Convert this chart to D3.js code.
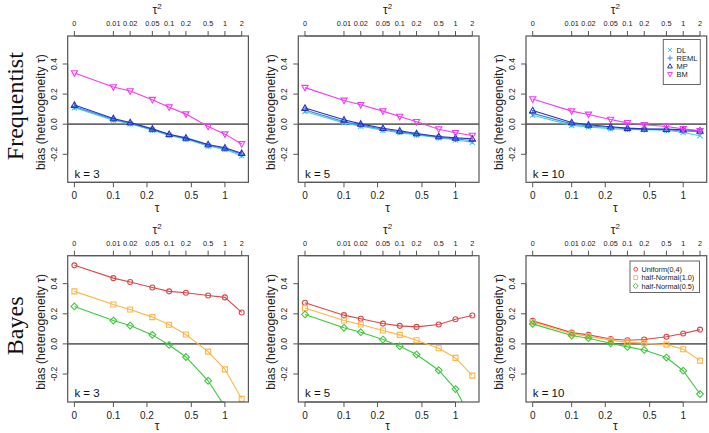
<!DOCTYPE html>
<html><head><meta charset="utf-8">
<script src="https://cdn.jsdelivr.net/npm/d3@7"></script>
<style>
body{margin:0;background:#fff;}
svg text{font-family:"Liberation Sans",Arial,sans-serif;}
</style></head>
<body><svg id="chart" width="709" height="433"></svg>
<script>
// ---------- data ----------
const tau2Values = [0, 0.01, 0.02, 0.05, 0.1, 0.2, 0.5, 1, 2];
const tau2Labels = ["0", "0.01", "0.02", "0.05", "0.1", "0.2", "0.5", "1", "2"];
const tauTicks = [0, 0.1, 0.2, 0.5, 1];
const tauTickLabels = ["0", "0.1", "0.2", "0.5", "1"];
const yTicks = [-0.2, 0.0, 0.2, 0.4];
const yTickLabels = ["-0.2", "0.0", "0.2", "0.4"];
const kValues = [3, 5, 10];
const rowLabels = ["Frequentist", "Bayes"];

const freqMethods = ["DL", "REML", "MP", "BM"];
const freqK3_DL   = [0.110, 0.027, 0.003, -0.040, -0.075, -0.100, -0.145, -0.168, -0.210];
const freqK3_REML = [0.118, 0.033, 0.007, -0.035, -0.070, -0.095, -0.140, -0.162, -0.200];
const freqK3_MP   = [0.127, 0.038, 0.011, -0.031, -0.067, -0.091, -0.135, -0.157, -0.193];
const freqK3_BM   = [0.340, 0.247, 0.220, 0.163, 0.113, 0.067, -0.015, -0.066, -0.131];
const freqK5_DL   = [0.085, 0.009, -0.013, -0.040, -0.056, -0.071, -0.090, -0.105, -0.120];
const freqK5_REML = [0.095, 0.017, -0.006, -0.034, -0.050, -0.066, -0.086, -0.098, -0.108];
const freqK5_MP   = [0.107, 0.029, 0.002, -0.027, -0.044, -0.062, -0.082, -0.091, -0.097];
const freqK5_BM   = [0.243, 0.158, 0.129, 0.087, 0.051, 0.016, -0.033, -0.057, -0.075];
const freqK10_DL   = [0.060, -0.008, -0.018, -0.030, -0.035, -0.036, -0.040, -0.055, -0.077];
const freqK10_REML = [0.072, 0.002, -0.010, -0.022, -0.030, -0.033, -0.036, -0.045, -0.050];
const freqK10_MP   = [0.091, 0.011, -0.004, -0.017, -0.026, -0.031, -0.033, -0.037, -0.044];
const freqK10_BM   = [0.167, 0.087, 0.065, 0.031, 0.009, -0.004, -0.015, -0.031, -0.044];

const bayesPriors = ["Uniform(0,4)", "half-Normal(1.0)", "half-Normal(0.5)"];
const bayesK3_U    = [0.522, 0.437, 0.411, 0.375, 0.349, 0.340, 0.322, 0.309, 0.209];
const bayesK3_HN1  = [0.349, 0.262, 0.229, 0.178, 0.127, 0.062, -0.051, -0.169, -0.365];
const bayesK3_HN05 = [0.249, 0.155, 0.122, 0.060, -0.007, -0.087, -0.245, -0.417, -0.700];
const bayesK5_U    = [0.273, 0.191, 0.167, 0.135, 0.120, 0.113, 0.129, 0.164, 0.189];
const bayesK5_HN1  = [0.238, 0.155, 0.129, 0.089, 0.060, 0.024, -0.029, -0.093, -0.211];
const bayesK5_HN05 = [0.196, 0.107, 0.078, 0.029, -0.015, -0.071, -0.175, -0.300, -0.510];
const bayesK10_U    = [0.153, 0.075, 0.060, 0.033, 0.024, 0.029, 0.047, 0.069, 0.095];
const bayesK10_HN1  = [0.145, 0.068, 0.050, 0.025, 0.010, 0.005, -0.005, -0.036, -0.111];
const bayesK10_HN05 = [0.133, 0.056, 0.038, 0.004, -0.020, -0.040, -0.091, -0.178, -0.333];

// ---------- styles ----------
const freqColors = {DL: "#3fd0e2", REML: "#4a86d8", MP: "#2334c0", BM: "#f23cf2"};
const freqShapes = {DL: "x", REML: "plus", MP: "tri", BM: "tridown"};
const bayesColors = {"Uniform(0,4)": "#dc4848", "half-Normal(1.0)": "#ffb547", "half-Normal(0.5)": "#3ec83e"};
const bayesShapes = {"Uniform(0,4)": "circle", "half-Normal(1.0)": "square", "half-Normal(0.5)": "diamond"};

const panelsData = [
  [ {DL: freqK3_DL, REML: freqK3_REML, MP: freqK3_MP, BM: freqK3_BM},
    {DL: freqK5_DL, REML: freqK5_REML, MP: freqK5_MP, BM: freqK5_BM},
    {DL: freqK10_DL, REML: freqK10_REML, MP: freqK10_MP, BM: freqK10_BM} ],
  [ {"Uniform(0,4)": bayesK3_U, "half-Normal(1.0)": bayesK3_HN1, "half-Normal(0.5)": bayesK3_HN05},
    {"Uniform(0,4)": bayesK5_U, "half-Normal(1.0)": bayesK5_HN1, "half-Normal(0.5)": bayesK5_HN05},
    {"Uniform(0,4)": bayesK10_U, "half-Normal(1.0)": bayesK10_HN1, "half-Normal(0.5)": bayesK10_HN05} ]
];

// ---------- layout ----------
const colLeft = [67.7, 298.3, 526];
const boxW = 180.7;
const rowTop = [36, 255.7];
const boxH = 146.3;
const svg = d3.select("#chart");
const tau0 = Math.sqrt(0.002); // position used for tau = 0

function shapePath(s, size) {
  const r = size;
  switch (s) {
    case "x": return `M${-r},${-r}L${r},${r}M${-r},${r}L${r},${-r}`;
    case "plus": return `M${-r*1.3},0L${r*1.3},0M0,${-r*1.3}L0,${r*1.3}`;
    case "tri": { const h = r*1.25; return `M0,${-h}L${h*0.95},${h*0.7}L${-h*0.95},${h*0.7}Z`; }
    case "tridown": { const h = r*1.25; return `M0,${h}L${h*0.95},${-h*0.7}L${-h*0.95},${-h*0.7}Z`; }
    case "square": return `M${-r},${-r}H${r}V${r}H${-r}Z`;
    case "diamond": { const d = r*1.35; return `M0,${-d}L${d},0L0,${d}L${-d},0Z`; }
    default: return d3.symbol(d3.symbolCircle, Math.PI*r*r)();
  }
}

rowLabels.forEach((rl, ri) => {
  const top = rowTop[ri];
  svg.append("text")
    .attr("transform", `translate(23,${top + boxH/2 - 3}) rotate(-90)`)
    .attr("text-anchor", "middle")
    .style("font-family", '"Liberation Serif","Times New Roman",serif')
    .style("font-size", "24px")
    .attr("fill", "#111")
    .text(rl);

  kValues.forEach((k, ci) => {
    const left = colLeft[ci];
    const pad = boxW * 0.04 / 1.08;
    const xs = d3.scaleLog().domain([tau0, Math.sqrt(2)]).range([left + pad, left + boxW - pad]);
    const x = v => xs(Math.max(Math.sqrt(v), tau0));      // v is tau^2
    const xt = t => xs(Math.max(t, tau0));                   // t is tau
    const y = d3.scaleLinear().domain([-0.35 - 0.036, 0.55 + 0.036]).range([top + boxH, top]);

    const g = svg.append("g");
    const clipId = `clip${ri}${ci}`;
    svg.append("clipPath").attr("id", clipId).append("rect")
      .attr("x", left).attr("y", top).attr("width", boxW).attr("height", boxH);

    // zero line
    g.append("line").attr("x1", left).attr("x2", left + boxW)
      .attr("y1", y(0)).attr("y2", y(0))
      .attr("stroke", "#6a6a6a").attr("stroke-width", 1.7);

    // series
    const data = panelsData[ri][ci];
    const keys = ri === 0 ? freqMethods : bayesPriors;
    const colors = ri === 0 ? freqColors : bayesColors;
    const shapes = ri === 0 ? freqShapes : bayesShapes;
    const sg = g.append("g").attr("clip-path", `url(#${clipId})`);
    const line = d3.line().x((d, i) => x(tau2Values[i])).y(d => y(d));
    keys.forEach(key => {
      const vals = data[key];
      sg.append("path").datum(vals).attr("d", line)
        .attr("fill", "none").attr("stroke", colors[key]).attr("stroke-width", 1.1);
      sg.selectAll(null).data(vals).enter().append("path")
        .attr("transform", (d, i) => `translate(${x(tau2Values[i])},${y(d)})`)
        .attr("d", shapePath(shapes[key], ri === 0 ? 2.6 : 2.5))
        .attr("fill", "none").attr("stroke", colors[key]).attr("stroke-width", 1.1);
    });

    // box
    g.append("rect").attr("x", left).attr("y", top).attr("width", boxW).attr("height", boxH)
      .attr("fill", "none").attr("stroke", "#555").attr("stroke-width", 1.2);

    // bottom axis
    const bx = g.append("g").attr("transform", `translate(0,${top + boxH})`);
    bx.append("line").attr("x1", xt(tauTicks[0])).attr("x2", xt(tauTicks[tauTicks.length-1]))
      .attr("stroke", "#555");
    tauTicks.forEach((t, i) => {
      bx.append("line").attr("x1", xt(t)).attr("x2", xt(t)).attr("y1", 0).attr("y2", 5).attr("stroke", "#555");
      bx.append("text").attr("x", xt(t)).attr("y", 17).attr("text-anchor", "middle")
        .style("font-size", "10px").attr("fill", "#222").text(tauTickLabels[i]);
    });
    bx.append("text").attr("x", left + boxW/2 - 1).attr("y", ri === 0 ? 30 : 27.5).attr("text-anchor", "middle")
      .style("font-size", "12px").attr("fill", "#222").text("τ");

    // top axis
    const tx = g.append("g").attr("transform", `translate(0,${top})`);
    tx.append("line").attr("x1", x(tau2Values[0])).attr("x2", x(tau2Values[tau2Values.length-1]))
      .attr("stroke", "#555");
    tau2Values.forEach((v, i) => {
      tx.append("line").attr("x1", x(v)).attr("x2", x(v)).attr("y1", 0).attr("y2", -5).attr("stroke", "#555");
      tx.append("text").attr("x", x(v)).attr("y", -10).attr("text-anchor", "middle")
        .style("font-size", "7.3px").attr("fill", "#222").text(tau2Labels[i]);
    });
    const tt = tx.append("text").attr("x", left + boxW/2 - 1).attr("y", -22).attr("text-anchor", "middle")
      .style("font-size", "12px").attr("fill", "#222");
    tt.append("tspan").text("τ");
    tt.append("tspan").attr("dy", -5).style("font-size", "8px").text("2");

    // left axis
    const ly = g.append("g").attr("transform", `translate(${left},0)`);
    yTicks.forEach((v, i) => {
      ly.append("line").attr("x1", 0).attr("x2", -5).attr("y1", y(v)).attr("y2", y(v)).attr("stroke", "#555");
      ly.append("text").attr("transform", `translate(-11,${y(v)}) rotate(-90)`)
        .attr("text-anchor", "middle").style("font-size", "8.5px").attr("fill", "#222").text(yTickLabels[i]);
    });
    ly.append("line").attr("x1", 0).attr("x2", 0).attr("y1", y(yTicks[0])).attr("y2", y(yTicks[yTicks.length-1])).attr("stroke", "#555");
    ly.append("text").attr("transform", `translate(-23,${top + boxH/2 + 3}) rotate(-90)`)
      .attr("text-anchor", "middle").style("font-size", "12.2px").attr("fill", "#222")
      .text("bias (heterogeneity τ)");

    // k label
    g.append("text").attr("x", x(0)).attr("y", ri === 0 ? top + boxH - 4.5 : top + boxH - 5.5)
      .style("font-size", "11.5px").attr("fill", "#111").text(`k = ${k}`);

    // legend
    if (ci === 2) {
      const lg = g.append("g");
      if (ri === 0) {
        lg.append("rect").attr("x", 663.3).attr("y", 39.5).attr("width", 37).attr("height", 45)
          .attr("fill", "#fff").attr("stroke", "#666").attr("stroke-width", 1);
        keys.forEach((key, j) => {
          const yy = 50 + j * 8.1;
          lg.append("path").attr("transform", `translate(670,${yy})`)
            .attr("d", shapePath(shapes[key], 2)).attr("fill", "none").attr("stroke", colors[key]);
          lg.append("text").attr("x", 676.5).attr("y", yy + 2.8).style("font-size", "7.5px").attr("fill", "#222").text(key);
        });
      } else {
        lg.append("rect").attr("x", 630).attr("y", 261).attr("width", 69.5).attr("height", 31.5)
          .attr("fill", "#fff").attr("stroke", "#666").attr("stroke-width", 1);
        keys.forEach((key, j) => {
          const yy = 269.3 + j * 8.35;
          lg.append("path").attr("transform", `translate(635.7,${yy})`)
            .attr("d", shapePath(shapes[key], 1.9)).attr("fill", "none").attr("stroke", colors[key]);
          lg.append("text").attr("x", 641.5).attr("y", yy + 2.8).style("font-size", "7.3px").attr("fill", "#222").text(key);
        });
      }
    }
  });
});
</script></body></html>
